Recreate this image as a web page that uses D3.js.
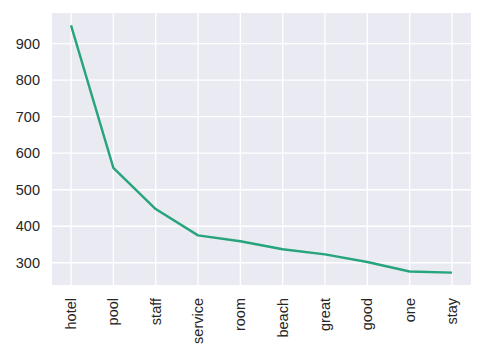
<!DOCTYPE html>
<meta charset="utf-8">
<html>
<head>
<style>
  body { margin: 0; background: #fff; }
  text { font-family: "Liberation Sans", Arial, sans-serif; }
</style>
</head>
<body>
<div id="chart"></div>
<script src="https://d3js.org/d3.v7.min.js"></script>
<script>

// words and their counts
var words = ["hotel", "pool", "staff", "service", "room", "beach", "great", "good", "one", "stay"];
var counts = [950, 560, 447, 375, 359, 337, 323, 302, 276, 273];
var yTicks = [300, 400, 500, 600, 700, 800, 900];

var margin = {top: 13, right: 8, bottom: 79, left: 52},
    width = 479 - margin.left - margin.right,
    height = 364 - margin.top - margin.bottom;

var svg = d3.select("#chart")
  .append("svg")
    .attr("width", 479)
    .attr("height", 364)
  .append("g")
    .attr("transform", "translate(" + margin.left + "," + margin.top + ")");

// background
svg.append("rect")
  .attr("width", width)
  .attr("height", height)
  .attr("fill", "#eaeaf2");

// x scale with 5% margins like matplotlib
var n = words.length;
var pad = (n - 1) * 0.05;
var xi = d3.scaleLinear().domain([-pad, n - 1 + pad]).range([0, width]);
var x = function(w) { return xi(words.indexOf(w)); };

var lo = d3.min(counts), hi = d3.max(counts), m = (hi - lo) * 0.05;
var y = d3.scaleLinear().domain([lo - m, hi + m]).range([height, 0]);

// grid lines
svg.selectAll(".hgrid")
  .data(yTicks)
  .enter().append("line")
    .attr("x1", 0).attr("x2", width)
    .attr("y1", function(d) { return y(d); })
    .attr("y2", function(d) { return y(d); })
    .attr("stroke", "#fff")
    .attr("stroke-width", 1.3);

svg.selectAll(".vgrid")
  .data(words)
  .enter().append("line")
    .attr("y1", 0).attr("y2", height)
    .attr("x1", function(d) { return x(d); })
    .attr("x2", function(d) { return x(d); })
    .attr("stroke", "#fff")
    .attr("stroke-width", 1.3);

// y axis labels
var yAxis = d3.axisLeft(y).tickValues(yTicks).tickSize(0).tickPadding(12);
var gy = svg.append("g").call(yAxis);
gy.select(".domain").remove();
gy.selectAll("text")
  .attr("fill", "#262626")
  .style("font-size", "14.5px")
  .style("font-family", "'Liberation Sans', Arial, sans-serif");

// x axis labels, rotated
var gx = svg.append("g")
  .attr("transform", "translate(0," + height + ")");
gx.selectAll("text")
  .data(words)
  .enter().append("text")
    .attr("transform", function(d) { return "translate(" + x(d) + ",13) rotate(-90)"; })
    .attr("text-anchor", "end")
    .attr("dy", "0.35em")
    .attr("fill", "#262626")
    .style("font-size", "14.5px")
    .text(function(d) { return d; });

// the line
var line = d3.line()
  .x(function(d, i) { return xi(i); })
  .y(function(d) { return y(d); });

svg.append("path")
  .datum(counts)
  .attr("fill", "none")
  .attr("stroke", "#26a47b")
  .attr("stroke-width", 2.4)
  .attr("stroke-linejoin", "round")
  .attr("d", line);

</script>
</body>
</html>
